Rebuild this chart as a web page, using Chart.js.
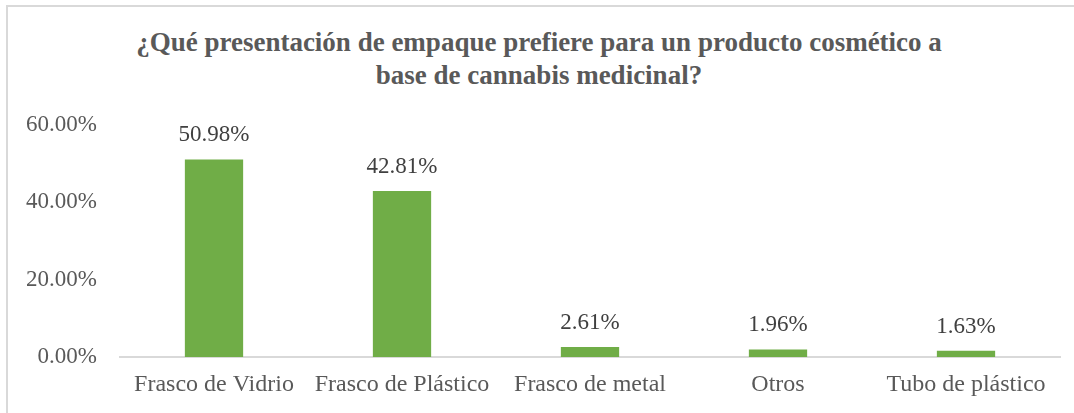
<!DOCTYPE html>
<html lang="es">
<head>
<meta charset="utf-8">
<title>Presentación de empaque</title>
<script src="https://cdn.jsdelivr.net/npm/chart.js@4.4.1/dist/chart.umd.min.js"></script>
<style>
  html, body { margin: 0; padding: 0; background: #fff; overflow: hidden; }
  #frame {
    position: absolute; left: 6px; top: 5px;
    width: 1100px; height: 450px;
    border: 2px solid #d9d9d9;
  }
  #title {
    position: absolute; left: 0; top: 26px; width: 1078px;
    text-align: center;
    font: bold 27px/33px 'Liberation Serif', 'Times New Roman', serif;
    color: #595959;
  }
  #wrap { position: absolute; left: 0; top: 0; width: 1074px; height: 413px; }
</style>
</head>
<body>
<div id="frame"></div>
<div id="title">¿Qué presentación de empaque prefiere para un producto cosmético a<br>base de cannabis medicinal?</div>
<div id="wrap"><canvas id="chart" width="1074" height="413"></canvas></div>
<script>
const categories = ['Frasco de Vidrio', 'Frasco de Plástico', 'Frasco de metal', 'Otros', 'Tubo de plástico'];
const percentages = [50.98, 42.81, 2.61, 1.96, 1.63];
const yTicks = [0, 20, 40, 60];

const serif = "'Liberation Serif', 'Times New Roman', serif";

// writes the percentage above each bar
const valueLabels = {
  id: 'valueLabels',
  afterDatasetsDraw(chart) {
    const ctx = chart.ctx;
    const meta = chart.getDatasetMeta(0);
    ctx.save();
    ctx.font = '23px ' + serif;
    ctx.fillStyle = '#404040';
    ctx.textAlign = 'center';
    ctx.textBaseline = 'middle';
    meta.data.forEach((bar, i) => {
      ctx.fillText(percentages[i].toFixed(2) + '%', bar.x, bar.y - 24);
    });
    ctx.restore();
  }
};

new Chart(document.getElementById('chart'), {
  type: 'bar',
  data: {
    labels: categories,
    datasets: [{
      data: percentages,
      backgroundColor: '#70ad47',
      barPercentage: 0.31,
      categoryPercentage: 1
    }]
  },
  options: {
    responsive: false,
    animation: false,
    layout: { padding: { left: 0, right: 14, top: 124.5, bottom: 0 } },
    plugins: {
      legend: { display: false },
      tooltip: { enabled: false },
      title: { display: false }
    },
    scales: {
      x: {
        grid: { display: false, drawTicks: false },
        border: { display: true, color: '#d9d9d9', width: 2 },
        ticks: { color: '#595959', font: { family: serif, size: 24 }, padding: 13, maxRotation: 0 },
        afterFit(scale) { scale.height = 56; }
      },
      y: {
        min: 0,
        max: 60,
        afterBuildTicks(scale) { scale.ticks = yTicks.map(v => ({ value: v })); },
        grid: { display: false, drawTicks: false },
        border: { display: false },
        ticks: {
          color: '#595959',
          font: { family: serif, size: 23 },
          padding: 23,
          callback: v => v.toFixed(2) + '%'
        },
        afterFit(scale) { scale.width = 120; }
      }
    }
  },
  plugins: [valueLabels]
});
</script>
</body>
</html>
